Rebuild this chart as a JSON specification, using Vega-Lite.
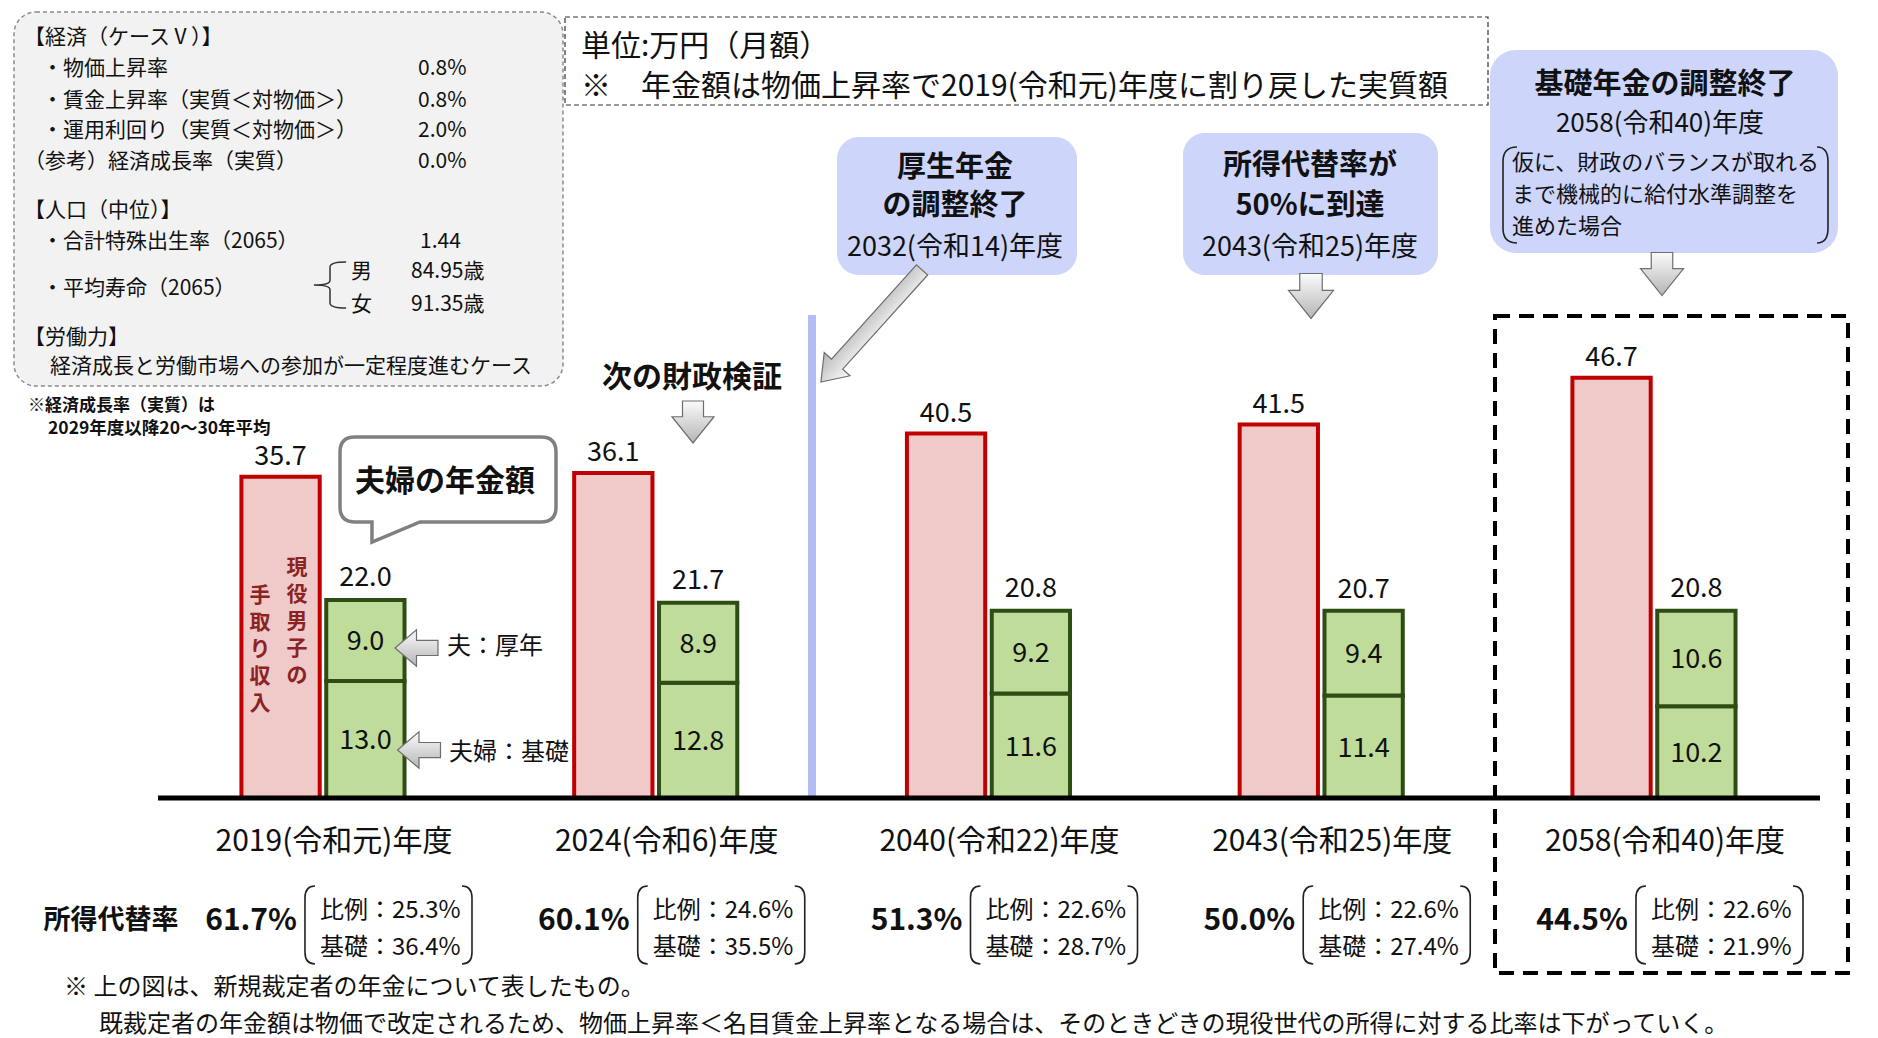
{
"$schema":"https://vega.github.io/schema/vega-lite/v6.json",
"width":1878,"height":1038,"autosize":{"type":"none"},"padding":0,"background":"white",
"config":{"view":{"stroke":null},"text":{"font":"Noto Sans CJK JP","color":"#111111"},"point":{"opacity":1},"axis":{"domain":false,"ticks":false,"labels":false,"grid":false}},
"datasets":{
"income":[
{"group":"2019(令和元)年度","kind":"手取り","value":35.7},
{"group":"2024(令和6)年度","kind":"手取り","value":36.1},
{"group":"2040(令和22)年度","kind":"手取り","value":40.5},
{"group":"2043(令和25)年度","kind":"手取り","value":41.5},
{"group":"2058(令和40)年度","kind":"手取り","value":46.7}],
"pension":[
{"group":"2019(令和元)年度","kind":"年金","part":"基礎","value":13.0},
{"group":"2019(令和元)年度","kind":"年金","part":"厚年","value":9.0},
{"group":"2024(令和6)年度","kind":"年金","part":"基礎","value":12.8},
{"group":"2024(令和6)年度","kind":"年金","part":"厚年","value":8.9},
{"group":"2040(令和22)年度","kind":"年金","part":"基礎","value":11.6},
{"group":"2040(令和22)年度","kind":"年金","part":"厚年","value":9.2},
{"group":"2043(令和25)年度","kind":"年金","part":"基礎","value":11.4},
{"group":"2043(令和25)年度","kind":"年金","part":"厚年","value":9.4},
{"group":"2058(令和40)年度","kind":"年金","part":"基礎","value":10.2},
{"group":"2058(令和40)年度","kind":"年金","part":"厚年","value":10.6}],
"summary":[
{"group":"2019(令和元)年度","kind":"年金","total":22.0,"rate":0.617,"hirei":0.253,"kiso":0.364},
{"group":"2024(令和6)年度","kind":"年金","total":21.7,"rate":0.601,"hirei":0.246,"kiso":0.355},
{"group":"2040(令和22)年度","kind":"年金","total":20.8,"rate":0.513,"hirei":0.226,"kiso":0.287},
{"group":"2043(令和25)年度","kind":"年金","total":20.7,"rate":0.500,"hirei":0.226,"kiso":0.274},
{"group":"2058(令和40)年度","kind":"年金","total":20.8,"rate":0.445,"hirei":0.226,"kiso":0.219}]
},
"resolve":{"scale":{"x":"independent"}},
"layer":[
{"layer":[
{"data":{"name":"income"},"mark":{"type":"bar","fill":"#f0c9c9","stroke":"#c00000","strokeWidth":4},
"encoding":{"x":{"field":"group","type":"nominal","scale":{"domain":["2019(令和元)年度","2024(令和6)年度","2040(令和22)年度","2043(令和25)年度","2058(令和40)年度"],"paddingInner":0,"paddingOuter":0.32195,"align":0.7309},"axis":null},
"xOffset":{"field":"kind","type":"nominal","scale":{"domain":["手取り","年金"],"paddingInner":0.077,"paddingOuter":1.0075}},
"y":{"field":"value","type":"quantitative","scale":{"domain":[-26.6667,88.6667],"nice":false},"axis":null}}},
{"data":{"name":"pension"},"transform":[{"stack":"value","groupby":["group"],"sort":[{"field":"part","order":"descending"}],"as":["v0","v1"]}],
"mark":{"type":"bar","fill":"#bfdc9b","stroke":"#2e4d14","strokeWidth":4},
"encoding":{"x":{"field":"group","type":"nominal","axis":null},"xOffset":{"field":"kind","type":"nominal"},
"y":{"field":"v0","type":"quantitative","axis":null},"y2":{"field":"v1"}}},
{"data":{"name":"income"},"mark":{"type":"text","fontSize":27,"baseline":"alphabetic","dy":-12},
"encoding":{"x":{"field":"group","type":"nominal","axis":null},"xOffset":{"field":"kind","type":"nominal"},"y":{"field":"value","type":"quantitative","axis":null},"text":{"field":"value","type":"quantitative","format":".1f"}}},
{"data":{"name":"summary"},"mark":{"type":"text","fontSize":27,"baseline":"alphabetic","dy":-14},
"encoding":{"x":{"field":"group","type":"nominal","axis":null},"xOffset":{"field":"kind","type":"nominal"},"y":{"field":"total","type":"quantitative","axis":null},"text":{"field":"total","type":"quantitative","format":".1f"}}},
{"data":{"name":"pension"},"transform":[{"stack":"value","groupby":["group"],"sort":[{"field":"part","order":"descending"}],"as":["v0","v1"]},{"fold":["v0","v1"],"as":["edge","pos"]}],
"mark":{"type":"text","fontSize":27,"baseline":"middle","dy":2},
"encoding":{"x":{"field":"group","type":"nominal","axis":null},"xOffset":{"field":"kind","type":"nominal"},"y":{"aggregate":"mean","field":"pos","type":"quantitative","axis":null},"text":{"aggregate":"max","field":"value","type":"quantitative","format":".1f"},"detail":{"field":"part","type":"nominal"}}},
{"data":{"name":"summary"},"mark":{"type":"text","fontSize":30,"baseline":"middle","dx":11},
"encoding":{"x":{"field":"group","type":"nominal","axis":null},"y":{"datum":-4.889,"type":"quantitative"},"text":{"field":"group","type":"nominal"}}},
{"data":{"name":"summary"},"mark":{"type":"text","fontSize":30,"fontWeight":"bold","align":"right","baseline":"middle","dx":-26},
"encoding":{"x":{"field":"group","type":"nominal","axis":null},"y":{"datum":-13.667,"type":"quantitative"},"text":{"field":"rate","type":"quantitative","format":".1%"}}},
{"data":{"name":"summary"},"mark":{"type":"text","text":"比例：","fontSize":24,"align":"left","baseline":"middle","dx":-3},
"encoding":{"x":{"field":"group","type":"nominal","axis":null},"y":{"datum":-12.556,"type":"quantitative"}}},
{"data":{"name":"summary"},"mark":{"type":"text","fontSize":24,"align":"left","baseline":"middle","dx":69},
"encoding":{"x":{"field":"group","type":"nominal","axis":null},"y":{"datum":-12.556,"type":"quantitative"},"text":{"field":"hirei","type":"quantitative","format":".1%"}}},
{"data":{"name":"summary"},"mark":{"type":"text","text":"基礎：","fontSize":24,"align":"left","baseline":"middle","dx":-3},
"encoding":{"x":{"field":"group","type":"nominal","axis":null},"y":{"datum":-16.667,"type":"quantitative"}}},
{"data":{"name":"summary"},"mark":{"type":"text","fontSize":24,"align":"left","baseline":"middle","dx":69},
"encoding":{"x":{"field":"group","type":"nominal","axis":null},"y":{"datum":-16.667,"type":"quantitative"},"text":{"field":"kiso","type":"quantitative","format":".1%"}}},
{"data":{"name":"summary"},"mark":{"type":"point","shape":"M-0.205,-1 Q-0.4615,-1 -0.4615,-0.7 L-0.4615,0.7 Q-0.4615,1 -0.205,1 M3.564,-1 Q3.821,-1 3.821,-0.7 L3.821,0.7 Q3.821,1 3.564,1","size":6084,"filled":false,"stroke":"#222222","strokeWidth":1.6,"opacity":1},
"encoding":{"x":{"field":"group","type":"nominal","axis":null},"y":{"datum":-14.111,"type":"quantitative"}}}
]},
{"data":{"values":[{}]},"layer":[
{"mark":{"type":"rect","fill":"#f2f2f2","stroke":"#8c8c8c","strokeWidth":1.5,"strokeDash":[4,3],"cornerRadius":22},
"encoding":{"x":{"datum":-0.92863,"type":"quantitative","scale":{"domain":[-0.970699,4.673178],"nice":false,"zero":false},"axis":null},"x2":{"datum":0.72126},"y":{"datum":87.333,"type":"quantitative"},"y2":{"datum":45.778}}},
{"mark":{"type":"rect","fill":"white","stroke":"#333333","strokeWidth":1.2,"strokeDash":[5,3]},
"encoding":{"x":{"datum":0.72727,"type":"quantitative"},"x2":{"datum":3.50113},"y":{"datum":86.778,"type":"quantitative"},"y2":{"datum":77.0}}},
{"mark":{"type":"rect","fill":"#cdd5fb","cornerRadius":22},
"encoding":{"x":{"datum":1.5447,"type":"quantitative"},"x2":{"datum":2.26597},"y":{"datum":73.444,"type":"quantitative"},"y2":{"datum":58.111}}},
{"mark":{"type":"rect","fill":"#cdd5fb","cornerRadius":22},
"encoding":{"x":{"datum":2.58452,"type":"quantitative"},"x2":{"datum":3.35087},"y":{"datum":73.889,"type":"quantitative"},"y2":{"datum":58.111}}},
{"mark":{"type":"rect","fill":"#cdd5fb","cornerRadius":26},
"encoding":{"x":{"datum":3.50714,"type":"quantitative"},"x2":{"datum":4.55297},"y":{"datum":83.111,"type":"quantitative"},"y2":{"datum":60.556}}},
{"mark":{"type":"rect","fill":"transparent","stroke":"#000000","strokeWidth":4,"strokeDash":[15,9]},
"encoding":{"x":{"datum":3.52216,"type":"quantitative"},"x2":{"datum":4.58302},"y":{"datum":53.556,"type":"quantitative"},"y2":{"datum":-19.444}}},
{"mark":{"type":"rule","stroke":"#b3bcf4","strokeWidth":8},
"encoding":{"x":{"datum":1.46957,"type":"quantitative"},"y":{"datum":53.667,"type":"quantitative"},"y2":{"datum":0}}},
{"mark":{"type":"rule","stroke":"#000000","strokeWidth":5},
"encoding":{"x":{"datum":-0.49587,"type":"quantitative"},"x2":{"datum":4.49888},"y":{"datum":0,"type":"quantitative"}}},
{"mark":{"type":"point","shape":"M-0.861,-0.3935 L0.861,-0.3935 Q1,-0.3935 1,-0.2545 L1,0.2545 Q1,0.3935 0.861,0.3935 L-0.259,0.3935 L-0.704,0.5794 L-0.704,0.3935 L-0.861,0.3935 Q-1,0.3935 -1,0.2545 L-1,-0.2545 Q-1,-0.3935 -0.861,-0.3935 Z","size":46656,"filled":true,"fill":"white","stroke":"#808080","strokeWidth":3.5,"opacity":1},
"encoding":{"x":{"datum":0.37566,"type":"quantitative"},"y":{"datum":35.389,"type":"quantitative"}}},
{"mark":{"type":"point","shape":"M-0.5,-1 L0.5,-1 L0.5,-0.25 L1,-0.25 L0,1 L-1,-0.25 L-0.5,-0.25 Z","size":1764,"filled":true,"fill":{"gradient":"linear","x1":0,"y1":0,"x2":0,"y2":1,"stops":[{"offset":0,"color":"#fbfbfb"},{"offset":1,"color":"#b5b5b5"}]},"stroke":"#6e6e6e","strokeWidth":1.2,"opacity":1},
"encoding":{"x":{"datum":1.11195,"type":"quantitative"},"y":{"datum":41.778,"type":"quantitative"}}},
{"mark":{"type":"point","shape":"M-0.5,-1 L0.5,-1 L0.5,-0.25 L1,-0.25 L0,1 L-1,-0.25 L-0.5,-0.25 Z","size":2025,"filled":true,"fill":{"gradient":"linear","x1":0,"y1":0,"x2":0,"y2":1,"stops":[{"offset":0,"color":"#fbfbfb"},{"offset":1,"color":"#b5b5b5"}]},"stroke":"#6e6e6e","strokeWidth":1.2,"opacity":1},
"encoding":{"x":{"datum":2.96919,"type":"quantitative"},"y":{"datum":55.778,"type":"quantitative"}}},
{"mark":{"type":"point","shape":"M-0.5,-1 L0.5,-1 L0.5,-0.25 L1,-0.25 L0,1 L-1,-0.25 L-0.5,-0.25 Z","size":1849,"filled":true,"fill":{"gradient":"linear","x1":0,"y1":0,"x2":0,"y2":1,"stops":[{"offset":0,"color":"#fbfbfb"},{"offset":1,"color":"#b5b5b5"}]},"stroke":"#6e6e6e","strokeWidth":1.2,"opacity":1},
"encoding":{"x":{"datum":4.02404,"type":"quantitative"},"y":{"datum":58.222,"type":"quantitative"}}},
{"mark":{"type":"point","shape":"M-1,-0.1 L0.68,-0.1 L0.68,-0.23 L1,0 L0.68,0.23 L0.68,0.1 L-1,0.1 Z","size":22801,"angle":132.05,"filled":true,"fill":{"gradient":"linear","x1":0,"y1":0,"x2":0,"y2":1,"stops":[{"offset":0,"color":"#fbfbfb"},{"offset":1,"color":"#b5b5b5"}]},"stroke":"#6e6e6e","strokeWidth":1.2,"opacity":1},
"encoding":{"x":{"datum":1.64838,"type":"quantitative"},"y":{"datum":52.444,"type":"quantitative"}}},
{"mark":{"type":"point","shape":"M1,-0.35 L1,0.35 L0,0.35 L0,0.85 L-1,0 L0,-0.85 L0,-0.35 Z","size":1849,"filled":true,"fill":{"gradient":"linear","x1":0,"y1":0,"x2":0,"y2":1,"stops":[{"offset":0,"color":"#fbfbfb"},{"offset":1,"color":"#b5b5b5"}]},"stroke":"#6e6e6e","strokeWidth":1.2,"opacity":1},
"encoding":{"x":{"datum":0.28099,"type":"quantitative"},"y":{"datum":16.667,"type":"quantitative"}}},
{"mark":{"type":"point","shape":"M1,-0.35 L1,0.35 L0,0.35 L0,0.85 L-1,0 L0,-0.85 L0,-0.35 Z","size":1849,"filled":true,"fill":{"gradient":"linear","x1":0,"y1":0,"x2":0,"y2":1,"stops":[{"offset":0,"color":"#fbfbfb"},{"offset":1,"color":"#b5b5b5"}]},"stroke":"#6e6e6e","strokeWidth":1.2,"opacity":1},
"encoding":{"x":{"datum":0.2885,"type":"quantitative"},"y":{"datum":5.333,"type":"quantitative"}}},
{"mark":{"type":"point","shape":"M-3.094,-1 Q-3.385,-1 -3.385,-0.7 L-3.385,0.7 Q-3.385,1 -3.094,1 M3.156,-1 Q3.385,-1 3.385,-0.7 L3.385,0.7 Q3.385,1 3.156,1","size":9216,"filled":false,"stroke":"#222222","strokeWidth":1.6,"opacity":1},
"encoding":{"x":{"datum":4.03456,"type":"quantitative"},"y":{"datum":67.0,"type":"quantitative"}}},
{"mark":{"type":"point","shape":"M0.67,-0.96 Q0,-0.96 0,-0.75 L0,-0.2 Q0,0 -0.67,0 Q0,0 0,0.2 L0,0.75 Q0,0.96 0.67,0.96","size":2304,"filled":false,"stroke":"#333333","strokeWidth":1.5,"opacity":1},
"encoding":{"x":{"datum":0.02104,"type":"quantitative"},"y":{"datum":57.0,"type":"quantitative"}}},
{"mark":{"type":"text","text":"【経済（ケースⅤ）】","fontSize":21,"align":"left","baseline":"middle"},"encoding":{"x":{"datum":-0.89857,"type":"quantitative"},"y":{"datum":84.5,"type":"quantitative"}}},
{"mark":{"type":"text","text":"・物価上昇率","fontSize":21,"align":"left","baseline":"middle"},"encoding":{"x":{"datum":-0.84448,"type":"quantitative"},"y":{"datum":81.0,"type":"quantitative"}}},
{"mark":{"type":"text","text":"・賃金上昇率（実質＜対物価＞）","fontSize":21,"align":"left","baseline":"middle"},"encoding":{"x":{"datum":-0.84448,"type":"quantitative"},"y":{"datum":77.5,"type":"quantitative"}}},
{"mark":{"type":"text","text":"・運用利回り（実質＜対物価＞）","fontSize":21,"align":"left","baseline":"middle"},"encoding":{"x":{"datum":-0.84448,"type":"quantitative"},"y":{"datum":74.1,"type":"quantitative"}}},
{"mark":{"type":"text","text":"（参考）経済成長率（実質）","fontSize":21,"align":"left","baseline":"middle"},"encoding":{"x":{"datum":-0.89857,"type":"quantitative"},"y":{"datum":70.7,"type":"quantitative"}}},
{"mark":{"type":"text","text":"0.8%","fontSize":21,"align":"left","baseline":"middle"},"encoding":{"x":{"datum":0.2855,"type":"quantitative"},"y":{"datum":81.0,"type":"quantitative"}}},
{"mark":{"type":"text","text":"0.8%","fontSize":21,"align":"left","baseline":"middle"},"encoding":{"x":{"datum":0.2855,"type":"quantitative"},"y":{"datum":77.5,"type":"quantitative"}}},
{"mark":{"type":"text","text":"2.0%","fontSize":21,"align":"left","baseline":"middle"},"encoding":{"x":{"datum":0.2855,"type":"quantitative"},"y":{"datum":74.1,"type":"quantitative"}}},
{"mark":{"type":"text","text":"0.0%","fontSize":21,"align":"left","baseline":"middle"},"encoding":{"x":{"datum":0.2855,"type":"quantitative"},"y":{"datum":70.7,"type":"quantitative"}}},
{"mark":{"type":"text","text":"【人口（中位）】","fontSize":21,"align":"left","baseline":"middle"},"encoding":{"x":{"datum":-0.89857,"type":"quantitative"},"y":{"datum":65.2,"type":"quantitative"}}},
{"mark":{"type":"text","text":"・合計特殊出生率（2065）","fontSize":21,"align":"left","baseline":"middle"},"encoding":{"x":{"datum":-0.84448,"type":"quantitative"},"y":{"datum":61.8,"type":"quantitative"}}},
{"mark":{"type":"text","text":"1.44","fontSize":21,"align":"left","baseline":"middle"},"encoding":{"x":{"datum":0.29151,"type":"quantitative"},"y":{"datum":61.8,"type":"quantitative"}}},
{"mark":{"type":"text","text":"・平均寿命（2065）","fontSize":21,"align":"left","baseline":"middle"},"encoding":{"x":{"datum":-0.84448,"type":"quantitative"},"y":{"datum":56.6,"type":"quantitative"}}},
{"mark":{"type":"text","text":"男","fontSize":21,"align":"left","baseline":"middle"},"encoding":{"x":{"datum":0.08415,"type":"quantitative"},"y":{"datum":58.4,"type":"quantitative"}}},
{"mark":{"type":"text","text":"女","fontSize":21,"align":"left","baseline":"middle"},"encoding":{"x":{"datum":0.08415,"type":"quantitative"},"y":{"datum":54.8,"type":"quantitative"}}},
{"mark":{"type":"text","text":"84.95歳","fontSize":21,"align":"left","baseline":"middle"},"encoding":{"x":{"datum":0.26446,"type":"quantitative"},"y":{"datum":58.4,"type":"quantitative"}}},
{"mark":{"type":"text","text":"91.35歳","fontSize":21,"align":"left","baseline":"middle"},"encoding":{"x":{"datum":0.26446,"type":"quantitative"},"y":{"datum":54.8,"type":"quantitative"}}},
{"mark":{"type":"text","text":"【労働力】","fontSize":21,"align":"left","baseline":"middle"},"encoding":{"x":{"datum":-0.89857,"type":"quantitative"},"y":{"datum":51.1,"type":"quantitative"}}},
{"mark":{"type":"text","text":"経済成長と労働市場への参加が一定程度進むケース","fontSize":21,"align":"left","baseline":"middle"},"encoding":{"x":{"datum":-0.82043,"type":"quantitative"},"y":{"datum":47.9,"type":"quantitative"}}},
{"mark":{"type":"text","text":"※経済成長率（実質）は","fontSize":17,"fontWeight":"bold","align":"left","baseline":"middle"},"encoding":{"x":{"datum":-0.88655,"type":"quantitative"},"y":{"datum":43.6,"type":"quantitative"}}},
{"mark":{"type":"text","text":"2029年度以降20～30年平均","fontSize":17.5,"fontWeight":"bold","align":"left","baseline":"middle"},"encoding":{"x":{"datum":-0.82644,"type":"quantitative"},"y":{"datum":41.0,"type":"quantitative"}}},
{"mark":{"type":"text","text":"単位:万円（月額）","fontSize":30,"align":"left","baseline":"middle"},"encoding":{"x":{"datum":0.77536,"type":"quantitative"},"y":{"datum":83.5,"type":"quantitative"}}},
{"mark":{"type":"text","text":"※　年金額は物価上昇率で2019(令和元)年度に割り戻した実質額","fontSize":30,"align":"left","baseline":"middle"},"encoding":{"x":{"datum":0.77536,"type":"quantitative"},"y":{"datum":79.0,"type":"quantitative"}}},
{"mark":{"type":"text","text":"厚生年金","fontSize":29,"fontWeight":"bold","align":"center","baseline":"middle"},"encoding":{"x":{"datum":1.89932,"type":"quantitative"},"y":{"datum":70.0,"type":"quantitative"}}},
{"mark":{"type":"text","text":"の調整終了","fontSize":29,"fontWeight":"bold","align":"center","baseline":"middle"},"encoding":{"x":{"datum":1.89932,"type":"quantitative"},"y":{"datum":65.8,"type":"quantitative"}}},
{"mark":{"type":"text","text":"2032(令和14)年度","fontSize":27,"align":"center","baseline":"middle"},"encoding":{"x":{"datum":1.89932,"type":"quantitative"},"y":{"datum":61.111,"type":"quantitative"}}},
{"mark":{"type":"text","text":"所得代替率が","fontSize":29,"fontWeight":"bold","align":"center","baseline":"middle"},"encoding":{"x":{"datum":2.96619,"type":"quantitative"},"y":{"datum":70.222,"type":"quantitative"}}},
{"mark":{"type":"text","text":"50%に到達","fontSize":29,"fontWeight":"bold","align":"center","baseline":"middle"},"encoding":{"x":{"datum":2.96619,"type":"quantitative"},"y":{"datum":65.8,"type":"quantitative"}}},
{"mark":{"type":"text","text":"2043(令和25)年度","fontSize":27,"align":"center","baseline":"middle"},"encoding":{"x":{"datum":2.96619,"type":"quantitative"},"y":{"datum":61.111,"type":"quantitative"}}},
{"mark":{"type":"text","text":"基礎年金の調整終了","fontSize":29,"fontWeight":"bold","align":"center","baseline":"middle"},"encoding":{"x":{"datum":4.03306,"type":"quantitative"},"y":{"datum":79.222,"type":"quantitative"}}},
{"mark":{"type":"text","text":"2058(令和40)年度","fontSize":26,"align":"center","baseline":"middle"},"encoding":{"x":{"datum":4.01803,"type":"quantitative"},"y":{"datum":74.889,"type":"quantitative"}}},
{"mark":{"type":"text","text":"仮に、財政のバランスが取れる","fontSize":22,"align":"left","baseline":"middle"},"encoding":{"x":{"datum":3.57326,"type":"quantitative"},"y":{"datum":70.556,"type":"quantitative"}}},
{"mark":{"type":"text","text":"まで機械的に給付水準調整を","fontSize":22,"align":"left","baseline":"middle"},"encoding":{"x":{"datum":3.57326,"type":"quantitative"},"y":{"datum":67.0,"type":"quantitative"}}},
{"mark":{"type":"text","text":"進めた場合","fontSize":22,"align":"left","baseline":"middle"},"encoding":{"x":{"datum":3.57326,"type":"quantitative"},"y":{"datum":63.444,"type":"quantitative"}}},
{"mark":{"type":"text","text":"次の財政検証","fontSize":30,"fontWeight":"bold","align":"center","baseline":"middle"},"encoding":{"x":{"datum":1.10894,"type":"quantitative"},"y":{"datum":46.667,"type":"quantitative"}}},
{"mark":{"type":"text","text":"夫婦の年金額","fontSize":30,"fontWeight":"bold","align":"center","baseline":"middle"},"encoding":{"x":{"datum":0.36664,"type":"quantitative"},"y":{"datum":35.111,"type":"quantitative"}}},
{"mark":{"type":"text","text":"夫：厚年","fontSize":24,"align":"left","baseline":"middle"},"encoding":{"x":{"datum":0.37265,"type":"quantitative"},"y":{"datum":16.778,"type":"quantitative"}}},
{"mark":{"type":"text","text":"夫婦：基礎","fontSize":24,"align":"left","baseline":"middle"},"encoding":{"x":{"datum":0.37866,"type":"quantitative"},"y":{"datum":5.0,"type":"quantitative"}}},
{"mark":{"type":"text","text":["現","役","男","子","の"],"lineHeight":27,"fontSize":21,"fontWeight":"bold","color":"#8b2323","align":"center","baseline":"top"},"encoding":{"x":{"datum":-0.07814,"type":"quantitative"},"y":{"datum":26.778,"type":"quantitative"}}},
{"mark":{"type":"text","text":["手","取","り","収","入"],"lineHeight":27,"fontSize":21,"fontWeight":"bold","color":"#8b2323","align":"center","baseline":"top"},"encoding":{"x":{"datum":-0.18933,"type":"quantitative"},"y":{"datum":23.667,"type":"quantitative"}}},
{"mark":{"type":"text","text":"所得代替率","fontSize":27,"fontWeight":"bold","align":"center","baseline":"middle"},"encoding":{"x":{"datum":-0.63711,"type":"quantitative"},"y":{"datum":-13.667,"type":"quantitative"}}},
{"mark":{"type":"text","text":"※ 上の図は、新規裁定者の年金について表したもの。","fontSize":24,"align":"left","baseline":"middle"},"encoding":{"x":{"datum":-0.77836,"type":"quantitative"},"y":{"datum":-21.111,"type":"quantitative"}}},
{"mark":{"type":"text","text":"既裁定者の年金額は物価で改定されるため、物価上昇率＜名目賃金上昇率となる場合は、そのときどきの現役世代の所得に対する比率は下がっていく。","fontSize":24,"align":"left","baseline":"middle"},"encoding":{"x":{"datum":-0.67318,"type":"quantitative"},"y":{"datum":-25.222,"type":"quantitative"}}}
]}
]
}
